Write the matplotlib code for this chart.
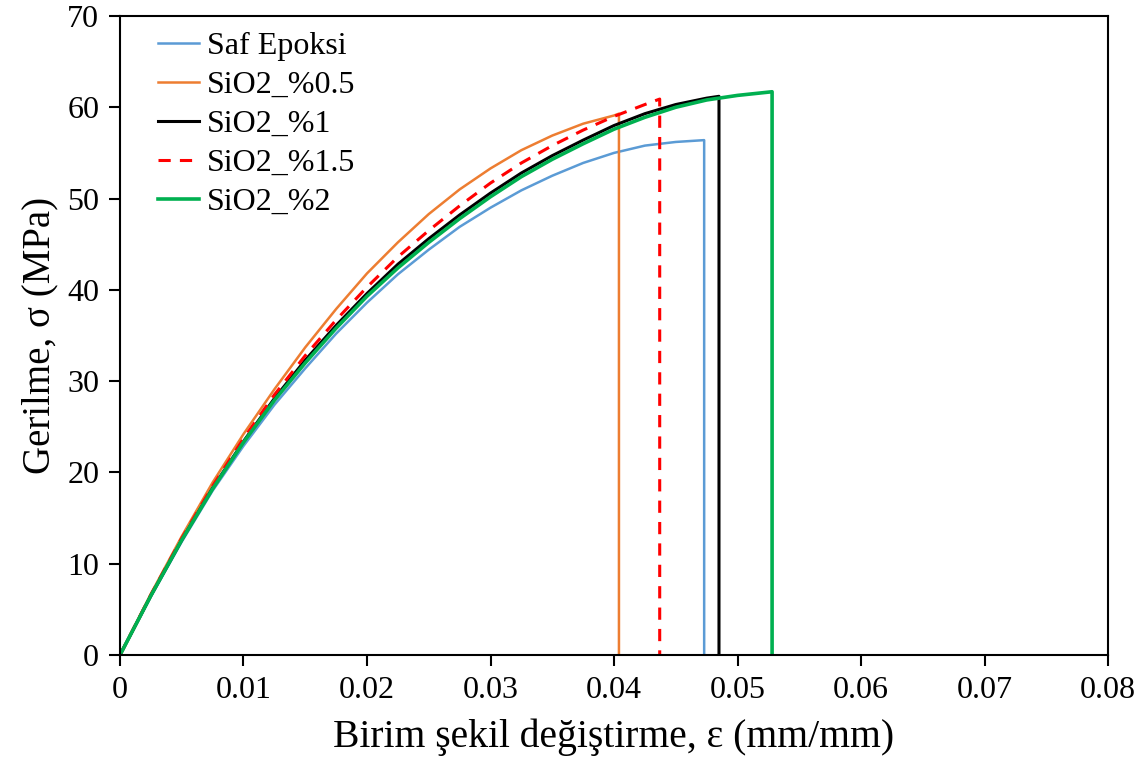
import numpy as np
import matplotlib
matplotlib.use('Agg')
import matplotlib.pyplot as plt

plt.rcParams['font.family'] = ['Liberation Serif', 'DejaVu Serif']
plt.rcParams['mathtext.fontset'] = 'stix'

# strain values (mm/mm) and stress (MPa)
x_saf = [0, 0.0025, 0.005, 0.0075, 0.01, 0.0125, 0.015, 0.0175, 0.02, 0.0225,
         0.025, 0.0275, 0.03, 0.0325, 0.035, 0.0375, 0.04, 0.0425, 0.045, 0.0473, 0.0473]
y_saf = [0, 6.4, 12.4, 18.0, 22.9, 27.4, 31.4, 35.2, 38.6, 41.7,
         44.4, 46.9, 49.0, 50.9, 52.5, 53.9, 55.0, 55.8, 56.2, 56.4, 0]

x_05 = [0, 0.0025, 0.005, 0.0075, 0.01, 0.0125, 0.015, 0.0175, 0.02, 0.0225,
        0.025, 0.0275, 0.03, 0.0325, 0.035, 0.0375, 0.04, 0.0404, 0.0404]
y_05 = [0, 6.7, 13.0, 18.9, 24.2, 29.1, 33.7, 37.9, 41.8, 45.2,
        48.3, 51.0, 53.3, 55.3, 56.9, 58.2, 59.1, 59.3, 0]

x_1 = [0, 0.0025, 0.005, 0.0075, 0.01, 0.0125, 0.015, 0.0175, 0.02, 0.0225,
       0.025, 0.0275, 0.03, 0.0325, 0.035, 0.0375, 0.04, 0.0425, 0.045, 0.0475, 0.0485, 0.0485]
y_1 = [0, 6.5, 12.6, 18.3, 23.4, 28.1, 32.3, 36.1, 39.6, 42.8,
       45.6, 48.2, 50.6, 52.8, 54.7, 56.4, 58.0, 59.3, 60.3, 61.0, 61.2, 0]

x_15 = [0, 0.0025, 0.005, 0.0075, 0.01, 0.0125, 0.015, 0.0175, 0.02, 0.0225,
        0.025, 0.0275, 0.03, 0.0325, 0.035, 0.0375, 0.04, 0.0425, 0.0437, 0.0437]
y_15 = [0, 6.6, 12.8, 18.5, 23.7, 28.5, 32.8, 36.7, 40.3, 43.6,
        46.5, 49.2, 51.7, 53.9, 55.8, 57.5, 59.0, 60.3, 60.9, 0]

x_2 = [0, 0.0025, 0.005, 0.0075, 0.01, 0.0125, 0.015, 0.0175, 0.02, 0.0225,
       0.025, 0.0275, 0.03, 0.0325, 0.035, 0.0375, 0.04, 0.0425, 0.045, 0.0475, 0.05, 0.0528, 0.0528]
y_2 = [0, 6.5, 12.6, 18.2, 23.3, 27.9, 32.0, 35.8, 39.3, 42.4,
       45.2, 47.8, 50.2, 52.4, 54.3, 56.0, 57.6, 58.9, 60.0, 60.8, 61.3, 61.7, 0]

xticks = [0, 0.01, 0.02, 0.03, 0.04, 0.05, 0.06, 0.07, 0.08]
xtick_labels = ['0', '0.01', '0.02', '0.03', '0.04', '0.05', '0.06', '0.07', '0.08']
yticks = [0, 10, 20, 30, 40, 50, 60, 70]

fig = plt.figure(figsize=(11.45, 7.61), dpi=100)
ax = fig.add_axes([0.1048, 0.1393, 0.8629, 0.8397])

ax.plot(x_saf, y_saf, color='#5B9BD5', lw=1.8, label='Saf Epoksi')
ax.plot(x_05, y_05, color='#ED7D31', lw=1.8, label='SiO2_%0.5')
ax.plot(x_1, y_1, color='black', lw=2.2, label='SiO2_%1')
ax.plot(x_15, y_15, color='#FF0000', lw=2.2, ls=(0, (4, 3)), label='SiO2_%1.5')
ax.plot(x_2, y_2, color='#00B050', lw=2.6, label='SiO2_%2')

ax.set_xlim(0, 0.08)
ax.set_ylim(0, 70)
ax.set_xticks(xticks)
ax.set_xticklabels(xtick_labels)
ax.set_yticks(yticks)
ax.tick_params(direction='out', length=8, width=1.5, labelsize=23, pad=7)
for s in ax.spines.values():
    s.set_linewidth(1.5)

ax.set_xlabel('Birim şekil değiştirme, ε (mm/mm)', fontsize=28.5, labelpad=10)
ax.set_ylabel('Gerilme, σ (MPa)', fontsize=28, labelpad=6)

ax.legend(loc='upper left', frameon=False, fontsize=23, handlelength=1.3,
          handletextpad=0.25, labelspacing=0.3, borderpad=0.2, borderaxespad=0.3,
          bbox_to_anchor=(0.022, 1.0))

fig.savefig('out.png', dpi=100)
